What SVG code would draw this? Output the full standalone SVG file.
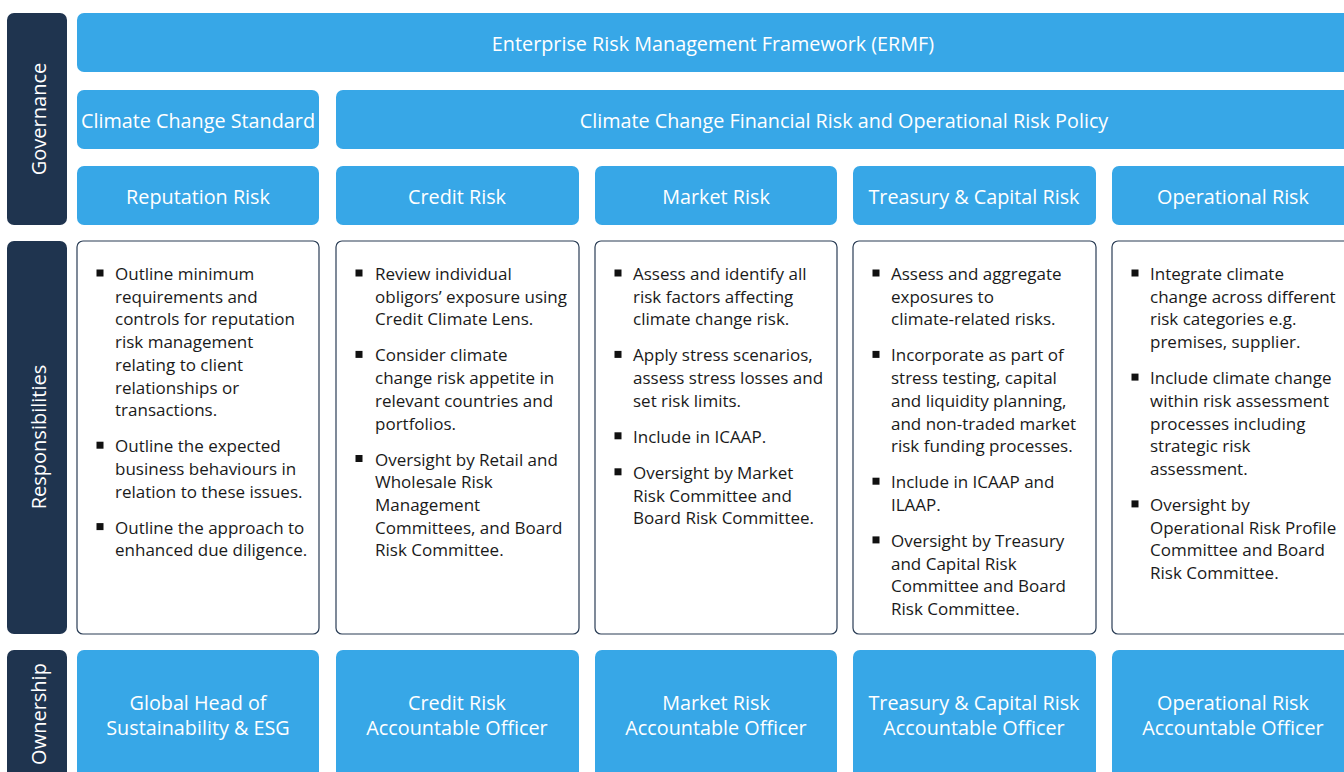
<svg xmlns="http://www.w3.org/2000/svg" width="1344" height="772" viewBox="0 0 1344 772">
<style>
.side{fill:#1F344F}
.blue{fill:#37A7E7}
.card{fill:#FFFFFF;stroke:#2A3D55;stroke-width:1.2}
.lbl{font-family:"Open Sans","Noto Sans",sans-serif;font-size:19.8px;fill:#FFFFFF;text-anchor:middle}
.side-t{font-family:"Open Sans","Noto Sans",sans-serif;font-size:20px;fill:#FFFFFF;text-anchor:middle}
.body{font-family:"Open Sans","Noto Sans",sans-serif;font-size:17px;fill:#1A1A1A}
.bul{fill:#111111}
</style>
<rect width="1344" height="772" fill="#FFFFFF"/>
<g id="side-governance"><rect class="side" x="7" y="13" width="60" height="212" rx="7"/><text class="side-t" transform="translate(46,119) rotate(-90)">Governance</text></g>
<g id="side-responsibilities"><rect class="side" x="7" y="241" width="60" height="393" rx="7"/><text class="side-t" transform="translate(46,437) rotate(-90)">Responsibilities</text></g>
<g id="side-ownership"><rect class="side" x="7" y="650" width="60" height="140" rx="7"/><text class="side-t" transform="translate(46,714) rotate(-90)">Ownership</text></g>

<g id="ermf"><rect class="blue" x="77" y="13" width="1277" height="59" rx="7"/><text class="lbl" x="713" y="51">Enterprise Risk Management Framework (ERMF)</text></g>
<g id="standard"><rect class="blue" x="77" y="90" width="242" height="59" rx="7"/><text class="lbl" x="198" y="128">Climate Change Standard</text></g>
<g id="policy"><rect class="blue" x="336" y="90" width="1018" height="59" rx="7"/><text class="lbl" x="844" y="128">Climate Change Financial Risk and Operational Risk Policy</text></g>

<g id="h-reputation"><rect class="blue" x="77" y="166" width="242" height="59" rx="7"/><text class="lbl" x="198" y="204">Reputation Risk</text></g>
<g id="h-credit"><rect class="blue" x="336" y="166" width="243" height="59" rx="7"/><text class="lbl" x="457" y="204">Credit Risk</text></g>
<g id="h-market"><rect class="blue" x="595" y="166" width="242" height="59" rx="7"/><text class="lbl" x="716" y="204">Market Risk</text></g>
<g id="h-treasury"><rect class="blue" x="853" y="166" width="243" height="59" rx="7"/><text class="lbl" x="974" y="204">Treasury &amp; Capital Risk</text></g>
<g id="h-operational"><rect class="blue" x="1112" y="166" width="242" height="59" rx="7"/><text class="lbl" x="1233" y="204">Operational Risk</text></g>

<g id="r-reputation">
<rect class="card" x="77" y="241" width="242" height="393" rx="6"/>
<rect class="bul" x="96.5" y="269.5" width="7" height="7"/>
<text class="body" x="115" y="280"><tspan x="115">Outline minimum</tspan><tspan x="115" dy="22.7">requirements and</tspan><tspan x="115" dy="22.7">controls for reputation</tspan><tspan x="115" dy="22.7">risk management</tspan><tspan x="115" dy="22.7">relating to client</tspan><tspan x="115" dy="22.7">relationships or</tspan><tspan x="115" dy="22.7">transactions.</tspan></text>
<rect class="bul" x="96.5" y="441.7" width="7" height="7"/>
<text class="body" x="115" y="452.2"><tspan x="115">Outline the expected</tspan><tspan x="115" dy="22.7">business behaviours in</tspan><tspan x="115" dy="22.7">relation to these issues.</tspan></text>
<rect class="bul" x="96.5" y="523.1" width="7" height="7"/>
<text class="body" x="115" y="533.6"><tspan x="115">Outline the approach to</tspan><tspan x="115" dy="22.7">enhanced due diligence.</tspan></text>
</g>

<g id="r-credit">
<rect class="card" x="336" y="241" width="243" height="393" rx="6"/>
<rect class="bul" x="355.5" y="269.5" width="7" height="7"/>
<text class="body" x="375" y="280"><tspan x="375">Review individual</tspan><tspan x="375" dy="22.7">obligors’ exposure using</tspan><tspan x="375" dy="22.7">Credit Climate Lens.</tspan></text>
<rect class="bul" x="355.5" y="350.9" width="7" height="7"/>
<text class="body" x="375" y="361.4"><tspan x="375">Consider climate</tspan><tspan x="375" dy="22.7">change risk appetite in</tspan><tspan x="375" dy="22.7">relevant countries and</tspan><tspan x="375" dy="22.7">portfolios.</tspan></text>
<rect class="bul" x="355.5" y="455" width="7" height="7"/>
<text class="body" x="375" y="465.5"><tspan x="375">Oversight by Retail and</tspan><tspan x="375" dy="22.7">Wholesale Risk</tspan><tspan x="375" dy="22.7">Management</tspan><tspan x="375" dy="22.7">Committees, and Board</tspan><tspan x="375" dy="22.7">Risk Committee.</tspan></text>
</g>

<g id="r-market">
<rect class="card" x="595" y="241" width="242" height="393" rx="6"/>
<rect class="bul" x="614.5" y="269.5" width="7" height="7"/>
<text class="body" x="633" y="280"><tspan x="633">Assess and identify all</tspan><tspan x="633" dy="22.7">risk factors affecting</tspan><tspan x="633" dy="22.7">climate change risk.</tspan></text>
<rect class="bul" x="614.5" y="350.9" width="7" height="7"/>
<text class="body" x="633" y="361.4"><tspan x="633">Apply stress scenarios,</tspan><tspan x="633" dy="22.7">assess stress losses and</tspan><tspan x="633" dy="22.7">set risk limits.</tspan></text>
<rect class="bul" x="614.5" y="432.3" width="7" height="7"/>
<text class="body" x="633" y="442.8">Include in ICAAP.</text>
<rect class="bul" x="614.5" y="468.3" width="7" height="7"/>
<text class="body" x="633" y="478.8"><tspan x="633">Oversight by Market</tspan><tspan x="633" dy="22.7">Risk Committee and</tspan><tspan x="633" dy="22.7">Board Risk Committee.</tspan></text>
</g>

<g id="r-treasury">
<rect class="card" x="853" y="241" width="243" height="393" rx="6"/>
<rect class="bul" x="872.5" y="269.5" width="7" height="7"/>
<text class="body" x="891" y="280"><tspan x="891">Assess and aggregate</tspan><tspan x="891" dy="22.7">exposures to</tspan><tspan x="891" dy="22.7">climate-related risks.</tspan></text>
<rect class="bul" x="872.5" y="350.9" width="7" height="7"/>
<text class="body" x="891" y="361.4"><tspan x="891">Incorporate as part of</tspan><tspan x="891" dy="22.7">stress testing, capital</tspan><tspan x="891" dy="22.7">and liquidity planning,</tspan><tspan x="891" dy="22.7">and non-traded market</tspan><tspan x="891" dy="22.7">risk funding processes.</tspan></text>
<rect class="bul" x="872.5" y="477.7" width="7" height="7"/>
<text class="body" x="891" y="488.2"><tspan x="891">Include in ICAAP and</tspan><tspan x="891" dy="22.7">ILAAP.</tspan></text>
<rect class="bul" x="872.5" y="536.4" width="7" height="7"/>
<text class="body" x="891" y="546.9"><tspan x="891">Oversight by Treasury</tspan><tspan x="891" dy="22.7">and Capital Risk</tspan><tspan x="891" dy="22.7">Committee and Board</tspan><tspan x="891" dy="22.7">Risk Committee.</tspan></text>
</g>

<g id="r-operational">
<rect class="card" x="1112" y="241" width="242" height="393" rx="6"/>
<rect class="bul" x="1131.5" y="269.5" width="7" height="7"/>
<text class="body" x="1150" y="280"><tspan x="1150">Integrate climate</tspan><tspan x="1150" dy="22.7">change across different</tspan><tspan x="1150" dy="22.7">risk categories e.g.</tspan><tspan x="1150" dy="22.7">premises, supplier.</tspan></text>
<rect class="bul" x="1131.5" y="373.6" width="7" height="7"/>
<text class="body" x="1150" y="384.1"><tspan x="1150">Include climate change</tspan><tspan x="1150" dy="22.7">within risk assessment</tspan><tspan x="1150" dy="22.7">processes including</tspan><tspan x="1150" dy="22.7">strategic risk</tspan><tspan x="1150" dy="22.7">assessment.</tspan></text>
<rect class="bul" x="1131.5" y="500.4" width="7" height="7"/>
<text class="body" x="1150" y="510.9"><tspan x="1150">Oversight by</tspan><tspan x="1150" dy="22.7">Operational Risk Profile</tspan><tspan x="1150" dy="22.7">Committee and Board</tspan><tspan x="1150" dy="22.7">Risk Committee.</tspan></text>
</g>

<g id="o-reputation"><rect class="blue" x="77" y="650" width="242" height="140" rx="7"/><text class="lbl" x="198" y="710"><tspan x="198">Global Head of</tspan><tspan x="198" dy="25">Sustainability &amp; ESG</tspan></text></g>
<g id="o-credit"><rect class="blue" x="336" y="650" width="243" height="140" rx="7"/><text class="lbl" x="457" y="710"><tspan x="457">Credit Risk</tspan><tspan x="457" dy="25">Accountable Officer</tspan></text></g>
<g id="o-market"><rect class="blue" x="595" y="650" width="242" height="140" rx="7"/><text class="lbl" x="716" y="710"><tspan x="716">Market Risk</tspan><tspan x="716" dy="25">Accountable Officer</tspan></text></g>
<g id="o-treasury"><rect class="blue" x="853" y="650" width="243" height="140" rx="7"/><text class="lbl" x="974" y="710"><tspan x="974">Treasury &amp; Capital Risk</tspan><tspan x="974" dy="25">Accountable Officer</tspan></text></g>
<g id="o-operational"><rect class="blue" x="1112" y="650" width="242" height="140" rx="7"/><text class="lbl" x="1233" y="710"><tspan x="1233">Operational Risk</tspan><tspan x="1233" dy="25">Accountable Officer</tspan></text></g>

<g id="connectors"/>
</svg>
